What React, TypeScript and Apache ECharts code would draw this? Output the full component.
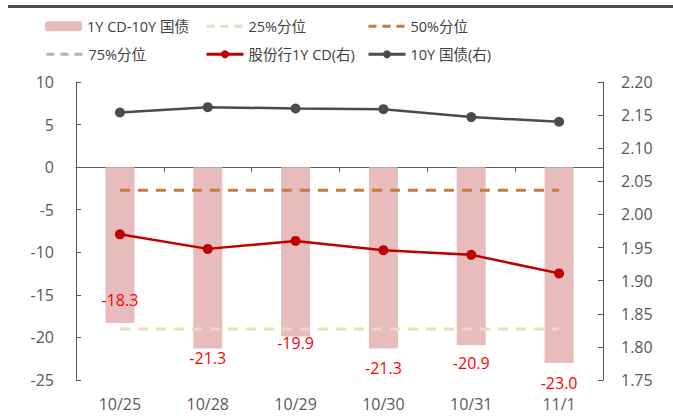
import React, { useEffect, useRef } from "react";
import * as echarts from "echarts";

const CATEGORIES = ["10/25", "10/28", "10/29", "10/30", "10/31", "11/1"];
const SPREAD = [-18.3, -21.3, -19.9, -21.3, -20.9, -23.0];
const P25 = [-19.0, -19.0, -19.0, -19.0, -19.0, -19.0];
const P50 = [-2.7, -2.7, -2.7, -2.7, -2.7, -2.7];
const P75: (number | null)[] = [null, null, null, null, null, null];
const CD_1Y = [1.970, 1.948, 1.960, 1.946, 1.939, 1.911];
const GOV_10Y = [2.154, 2.162, 2.160, 2.159, 2.147, 2.140];
const LEFT_TICKS = { min: -25, max: 10, interval: 5 };
const RIGHT_TICKS = { min: 1.75, max: 2.2, interval: 0.05 };
const LABEL_DY = [-35, -2.5, -5.5, 7.5, 6, 8];

const FONT = "'Open Sans', 'Noto Sans CJK SC', sans-serif";
const AXIS_GREY = "#595959";
const TEXT_GREY = "#404040";

export default function App() {
  const ref = useRef<HTMLDivElement>(null);
  useEffect(() => {
    if (!ref.current) return;
    const chart = echarts.init(ref.current, undefined, { renderer: "svg" });
    const legendBase = {
      itemWidth: 37,
      itemHeight: 10,
      textStyle: { fontSize: 14.5, color: TEXT_GREY, fontFamily: FONT },
      padding: 0,
    };
    const names = [
      "1Y CD-10Y 国债",
      "25%分位",
      "50%分位",
      "75%分位",
      "股份行1Y CD(右)",
      "10Y 国债(右)",
    ];
    const dashedIcon = [false, true, true, true, false, false];
    const legendPos = [
      [45, 19],
      [205, 19],
      [367, 19],
      [45, 47],
      [205, 47],
      [367, 47],
    ];
    chart.setOption({
      animation: false,
      textStyle: { fontFamily: FONT },
      graphic: [
        {
          type: "rect",
          shape: { x: 8, y: 5, width: 665, height: 3 },
          style: { fill: "#4a4a4a" },
        },
      ],
      legend: names.map((n, i) => ({
        ...legendBase,
        data: [
          dashedIcon[i]
            ? { name: n, itemStyle: { opacity: 0 }, lineStyle: { type: [8, 6], width: 3 } }
            : { name: n, lineStyle: { width: 3 } },
        ],
        left: legendPos[i][0],
        top: legendPos[i][1],
      })),
      grid: { left: 76, right: 70, top: 82, bottom: 39, containLabel: false },
      xAxis: [
        {
          type: "category",
          data: CATEGORIES,
          position: "bottom",
          axisLine: { show: false, onZero: false },
          axisTick: { show: false },
          axisLabel: { color: AXIS_GREY, fontSize: 16, margin: 16, fontFamily: FONT },
        },
        {
          type: "category",
          data: CATEGORIES,
          position: "top",
          axisLine: { show: true, onZero: true, lineStyle: { color: AXIS_GREY, width: 1 } },
          axisTick: { show: true, inside: true, length: 5, lineStyle: { color: AXIS_GREY } },
          axisLabel: { show: false },
        },
      ],
      yAxis: [
        {
          type: "value",
          ...LEFT_TICKS,
          position: "left",
          splitLine: { show: false },
          axisLine: { show: true, lineStyle: { color: AXIS_GREY } },
          axisTick: { show: true, inside: true, length: 5, lineStyle: { color: AXIS_GREY } },
          axisLabel: { color: AXIS_GREY, fontSize: 16, margin: 22, fontFamily: FONT },
        },
        {
          type: "value",
          ...RIGHT_TICKS,
          position: "right",
          splitLine: { show: false },
          axisLine: { show: true, onZero: false, lineStyle: { color: AXIS_GREY } },
          axisTick: { show: true, inside: true, length: 5, lineStyle: { color: AXIS_GREY } },
          axisLabel: {
            color: AXIS_GREY,
            fontSize: 16,
            margin: 18,
            fontFamily: FONT,
            formatter: (v: number) => v.toFixed(2),
          },
        },
      ],
      series: [
        {
          name: names[0],
          type: "bar",
          xAxisIndex: 0,
          yAxisIndex: 0,
          barWidth: 29,
          itemStyle: { color: "#E8BCBD" },
          data: SPREAD.map((v, i) => ({
            value: v,
            label: { offset: [0, LABEL_DY[i]] },
          })),
          label: {
            show: true,
            position: "bottom",
            distance: 4,
            color: "#FF0000",
            fontSize: 16,
            fontFamily: FONT,
            formatter: (p: any) => Number(p.value).toFixed(1),
          },
          z: 1,
        },
        {
          name: names[1],
          type: "line",
          yAxisIndex: 0,
          data: P25,
          symbol: "none",
          lineStyle: { color: "#EADCBE", width: 3, type: [10, 8] },
          itemStyle: { color: "#EADCBE" },
          z: 2,
        },
        {
          name: names[2],
          type: "line",
          yAxisIndex: 0,
          data: P50,
          symbol: "none",
          lineStyle: { color: "#C47A45", width: 3, type: [10, 8] },
          itemStyle: { color: "#C47A45" },
          z: 2,
        },
        {
          name: names[3],
          type: "line",
          yAxisIndex: 0,
          data: P75,
          symbol: "none",
          lineStyle: { color: "#B3B3B3", width: 3, type: [10, 8] },
          itemStyle: { color: "#B3B3B3" },
          z: 2,
        },
        {
          name: names[4],
          type: "line",
          yAxisIndex: 1,
          data: CD_1Y,
          symbol: "circle",
          symbolSize: 10,
          lineStyle: { color: "#C00000", width: 2.5 },
          itemStyle: { color: "#C00000" },
          z: 3,
        },
        {
          name: names[5],
          type: "line",
          yAxisIndex: 1,
          data: GOV_10Y,
          symbol: "circle",
          symbolSize: 10,
          lineStyle: { color: "#4B4B4B", width: 2.5 },
          itemStyle: { color: "#4B4B4B" },
          z: 3,
        },
      ],
    });
    return () => chart.dispose();
  }, []);
  return (
    <div
      ref={ref}
      style={{ position: "fixed", left: 0, top: 0, width: 673, height: 419, background: "#fff" }}
    />
  );
}
